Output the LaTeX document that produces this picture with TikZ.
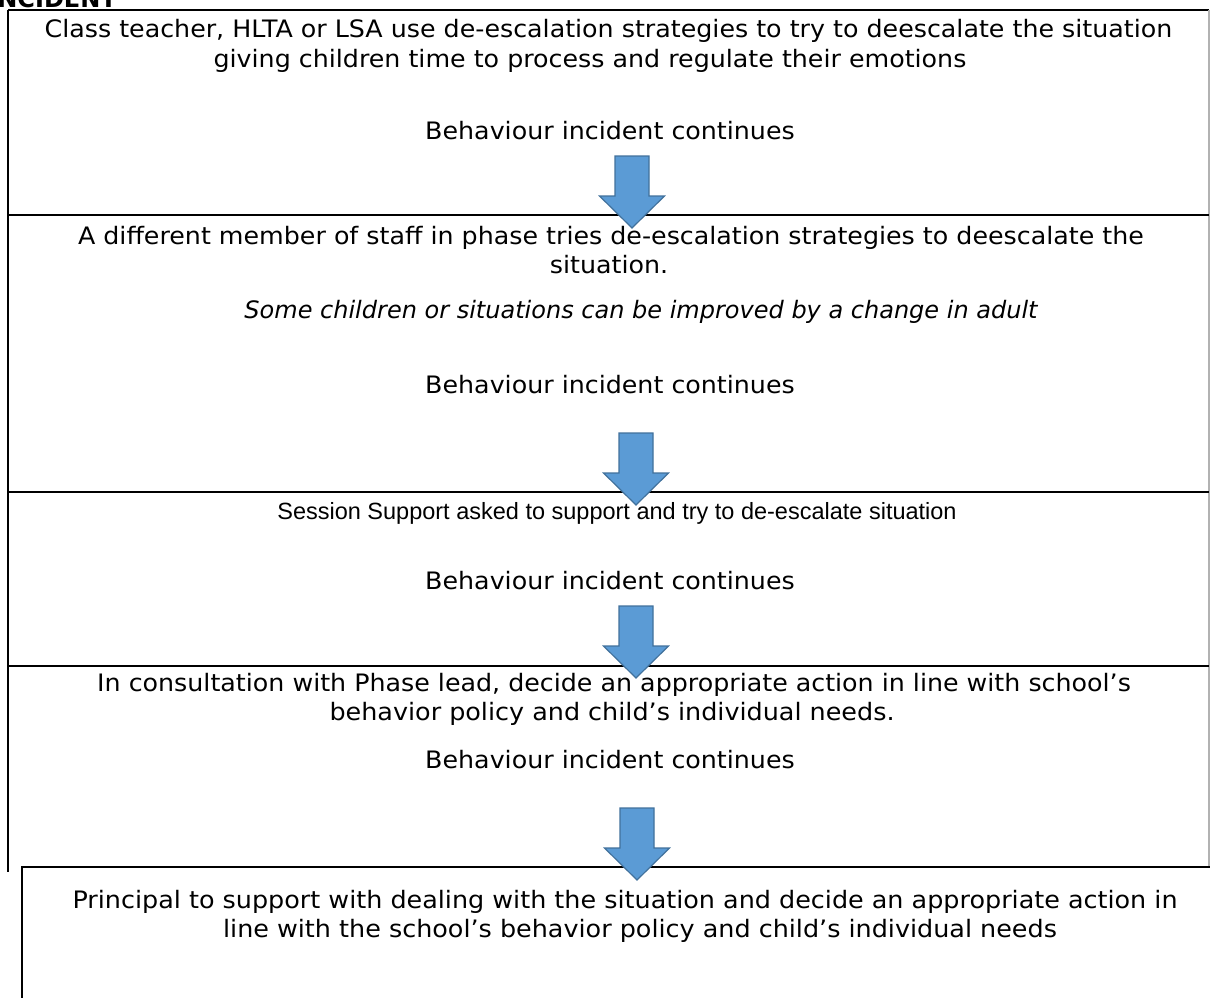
\documentclass[tikz,border=0pt]{standalone}
\usepackage{fontspec}
\setmainfont{DejaVu Sans}
\newfontfamily\narrowsans{Liberation Sans}
\definecolor{arrowfill}{HTML}{5B9BD5}
\definecolor{arrowborder}{HTML}{41719C}
\newcommand\wline[2]{\scalebox{#1}[1]{#2}}
\begin{document}
\begin{tikzpicture}[x=1pt,y=-1pt,
  frame/.style={line width=1.5pt, black},
  edge/.style={line width=1.2pt, black!30},
  txt/.style={anchor=base, inner sep=0pt, font=\fontsize{24}{29}\selectfont},
  itxt/.style={txt, font=\fontsize{24}{29}\selectfont\itshape},
  ntxt/.style={txt, font=\narrowsans\fontsize{23.5}{29}\selectfont},
  arrowstyle/.style={draw=arrowborder, fill=arrowfill, line width=1.2pt, line join=miter},
  pics/downblock/.style={code={
    \path[arrowstyle] (-17,0) -- (17,0) -- (17,40) -- (32.5,40) -- (0,72)
      -- (-32.5,40) -- (-17,40) -- cycle;}}]
\useasboundingbox (0,0) rectangle (1210,997);
\clip (0,0) rectangle (1210,997);
\fill[white] (0,0) rectangle (1210,997);
% partially visible heading
\node[anchor=base east, inner sep=0pt, font=\fontsize{24}{29}\selectfont\bfseries] (head) at (117,7) {INCIDENT};
% frame coordinates
\coordinate (tl) at (8,10);
\coordinate (tr) at (1209,10);
\coordinate (bl) at (8,872);
\coordinate (br) at (1209,872);
\coordinate (d1l) at (8,215);   \coordinate (d1r) at (1209,215);
\coordinate (d2l) at (8,492);   \coordinate (d2r) at (1209,492);
\coordinate (d3l) at (8,666);   \coordinate (d3r) at (1209,666);
\draw[frame] (tl) -- (tr);
\draw[frame] (tl) -- (bl);
\draw[edge] (tr) -- (br);
\draw[frame] (d1l) -- (d1r);
\draw[frame] (d2l) -- (d2r);
\draw[frame] (d3l) -- (d3r);
% box 1
\node[txt] (t11) at (608.5,37) {\wline{1.055}{Class teacher, HLTA or LSA use de-escalation strategies to try to deescalate the situation}};
\node[txt] (t12) at (590,67) {\wline{1.055}{giving children time to process and regulate their emotions}};
\node[txt] (t13) at (610,139) {\wline{1.055}{Behaviour incident continues}};
% box 2
\node[txt] (t21) at (611,244) {\wline{1.055}{A different member of staff in phase tries de-escalation strategies to deescalate the}};
\node[txt] (t22) at (609,273) {\wline{1.055}{situation.}};
\node[itxt] (t23) at (641,318) {Some children or situations can be improved by a change in adult};
\node[txt] (t24) at (610,393) {\wline{1.055}{Behaviour incident continues}};
% box 3
\node[ntxt] (t31) at (617,519) {Session Support asked to support and try to de-escalate situation};
\node[txt] (t32) at (610,589) {\wline{1.055}{Behaviour incident continues}};
% box 4
\node[txt] (t41) at (614,691) {\wline{1.055}{In consultation with Phase lead, decide an appropriate action in line with school’s}};
\node[txt] (t42) at (612,720) {\wline{1.06}{behavior policy and child’s individual needs.}};
\node[txt] (t43) at (610,768) {\wline{1.055}{Behaviour incident continues}};
% box 5
\node[draw, line width=1.5pt, fill=white, anchor=north west, minimum width=1220pt, minimum height=160pt, inner sep=0pt] (b5) at (21,866) {};
\node[txt] (t51) at (625,908) {\wline{1.06}{Principal to support with dealing with the situation and decide an appropriate action in}};
\node[txt] (t52) at (640,937) {\wline{1.06}{line with the school’s behavior policy and child’s individual needs}};
% arrows
\pic (a1) at (632,156) {downblock};
\pic (a2) at (636,433) {downblock};
\pic (a3) at (636,606) {downblock};
\pic (a4) at (637,808) {downblock};
\end{tikzpicture}
\end{document}
